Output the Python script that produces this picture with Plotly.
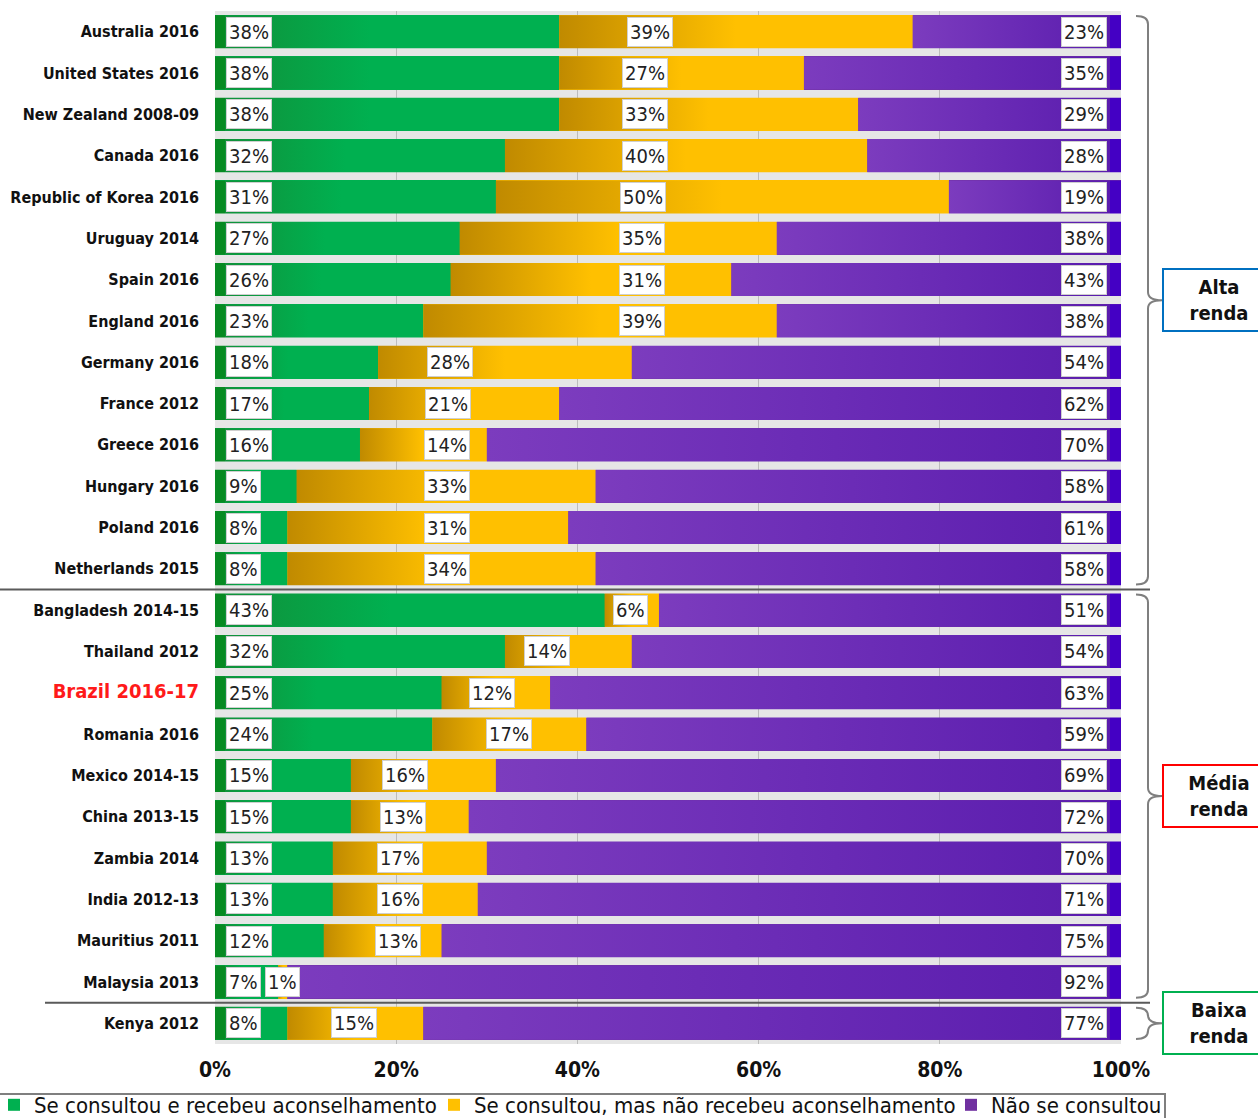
import plotly.graph_objects as go

# ---- data -------------------------------------------------------------
countries = [
    "Australia 2016", "United States 2016", "New Zealand 2008-09", "Canada 2016",
    "Republic of Korea 2016", "Uruguay 2014", "Spain 2016", "England 2016",
    "Germany 2016", "France 2012", "Greece 2016", "Hungary 2016", "Poland 2016",
    "Netherlands 2015", "Bangladesh 2014-15", "Thailand 2012", "Brazil 2016-17",
    "Romania 2016", "Mexico 2014-15", "China 2013-15", "Zambia 2014",
    "India 2012-13", "Mauritius 2011", "Malaysia 2013", "Kenya 2012",
]
received_advice = [38, 38, 38, 32, 31, 27, 26, 23, 18, 17, 16, 9, 8, 8,
                   43, 32, 25, 24, 15, 15, 13, 13, 12, 7, 8]
no_advice = [39, 27, 33, 40, 50, 35, 31, 39, 28, 21, 14, 33, 31, 34,
             6, 14, 12, 17, 16, 13, 17, 16, 13, 1, 15]
not_consulted = [23, 35, 29, 28, 19, 38, 43, 38, 54, 62, 70, 58, 61, 58,
                 51, 54, 63, 59, 69, 72, 70, 71, 75, 92, 77]
series_names = [
    "Se consultou e recebeu aconselhamento",
    "Se consultou, mas não recebeu aconselhamento",
    "Não se consultou",
]
x_ticks = [0, 20, 40, 60, 80, 100]
x_tick_labels = ["0%", "20%", "40%", "60%", "80%", "100%"]
highlight_country = "Brazil 2016-17"

income_groups = ["Alta<br>renda", "Média<br>renda", "Baixa<br>renda"]
group_first_row = [0, 14, 24]
group_last_row = [13, 23, 24]
group_colors = ["#0070c0", "#ff0000", "#00b050"]

# x position (in %) of the middle-segment value labels
mid_label_pos = [48.0, 47.5, 47.5, 47.5, 47.2, 47.1, 47.1, 47.1, 25.9, 25.7,
                 25.6, 25.6, 25.6, 25.6, 45.9, 36.6, 30.6, 32.5, 21.0, 20.8,
                 20.4, 20.4, 20.2, 7.4, 15.3]

# ---- page geometry ----------------------------------------------------
W, H = 1258, 1118
ML, MR, MT, MB = 215, 137, 11, 74
PW, PH = W - ML - MR, H - MT - MB
N = len(countries)
BARGAP = 0.2
HALF = (1 - BARGAP) / 2

COND = "DejaVu Sans Condensed"


def xp(px):
    return (px - ML) / PW


def yp(py):
    return (H - MB - py) / PH


def row_y(idx):
    # paper y for a (fractional) row index, rows run top to bottom
    return 1 - (idx + 0.5) / N


rows = list(range(N))
flat_colors = ["#00b050", "#ffc000", "#7030a0"]
series = [received_advice, no_advice, not_consulted]
legend_ids = ["legend", "legend2", "legend3"]
legend_left_px = [-6, 434, 951]

fig = go.Figure()

# stacked bars
for name, vals, col, lg in zip(series_names, series, flat_colors, legend_ids):
    fig.add_trace(go.Bar(
        y=rows, x=vals, orientation="h", name=name, legend=lg,
        marker=dict(color=col, line=dict(width=0)),
        hoverinfo="skip",
    ))


def green_scale(w):
    s = min(1.1 / w, 0.3)
    return [[0, "#078a22"], [s, "#078a22"], [s + 0.001, "#10913a"],
            [max(s + 0.002, 0.45), "#00b050"], [1, "#00b050"]]


def yellow_scale(w):
    return [[0, "#c08a00"], [0.5, "#ffc000"], [1, "#ffc000"]]


def purple_scale(w):
    s = min(1.2 / w, 0.3)
    return [[0, "#7c3cbe"], [1 - s - 0.001, "#5a1cae"], [1 - s, "#4400c4"],
            [1, "#4400c4"]]


scales = [green_scale, yellow_scale, purple_scale]

# shaded overlay on each segment (same extents as the bars)
for k, vals in enumerate(series):
    for i in rows:
        x0 = sum(series[j][i] for j in range(k))
        x1 = x0 + vals[i]
        if vals[i] <= 0:
            continue
        fig.add_trace(go.Scatter(
            x=[x0, x1, x1, x0, x0],
            y=[i - HALF, i - HALF, i + HALF, i + HALF, i - HALF],
            mode="none", fill="toself", showlegend=False, hoverinfo="skip",
            fillcolor=flat_colors[k],
            fillgradient=dict(type="horizontal", colorscale=scales[k](vals[i]),
                              start=x0, stop=x1),
        ))

# value labels
label_font = dict(family=COND, size=20, color="#222222")
annotations = []
for i in rows:
    common = dict(yref="y", xref="x", y=i, showarrow=False, font=label_font,
                  bgcolor="white", bordercolor="#cfcfcf", borderwidth=1,
                  borderpad=2, yanchor="middle")
    annotations.append(dict(x=1.2, xanchor="left",
                            text=f"{received_advice[i]}%", **common))
    annotations.append(dict(x=mid_label_pos[i], xanchor="center",
                            text=f"{no_advice[i]}%", **common))
    annotations.append(dict(x=98.4, xanchor="right",
                            text=f"{not_consulted[i]}%", **common))

# income group brackets and boxes
shapes = []
bx_end, bx_line, bx_tip = xp(1136), xp(1148), xp(1162)
for g, (first, last, col) in enumerate(zip(group_first_row, group_last_row,
                                            group_colors)):
    top = row_y(first - 0.38)
    bot = row_y(min(last + 0.38, N - 0.55))
    mid = (top + bot) / 2
    r = 0.008
    path = (f"M {bx_end},{top} Q {bx_line},{top} {bx_line},{top - r} "
            f"L {bx_line},{mid + r} Q {bx_line},{mid} {bx_tip},{mid} "
            f"Q {bx_line},{mid} {bx_line},{mid - r} "
            f"L {bx_line},{bot + r} Q {bx_line},{bot} {bx_end},{bot}")
    shapes.append(dict(type="path", xref="paper", yref="paper", path=path,
                       line=dict(color="#7f7f7f", width=2)))
    annotations.append(dict(
        xref="paper", yref="paper", x=bx_tip, y=mid, xanchor="left",
        yanchor="middle", showarrow=False, text=income_groups[g],
        width=100, align="center", bordercolor=col, borderwidth=2,
        borderpad=5, bgcolor="white",
        font=dict(family=COND, size=20, color="#111111", weight="bold"),
    ))

# separators between income groups
for last, x_start in zip(group_last_row[:-1], [0, 45]):
    yy = row_y(last + 0.5)
    shapes.append(dict(type="line", xref="paper", yref="paper",
                       x0=xp(x_start), x1=xp(1150), y0=yy, y1=yy,
                       line=dict(color="#5a5a5a", width=2)))

# legend frame
shapes.append(dict(type="rect", xref="paper", yref="paper",
                   x0=xp(-5), x1=xp(1165), y0=yp(1094), y1=yp(1140),
                   line=dict(color="#7f7f7f", width=2), fillcolor="rgba(0,0,0,0)"))

tick_text = [
    f'<span style="color:#ff1a1a;font-size:20px">{c}</span>'
    if c == highlight_country else c
    for c in countries
]

legend_style = dict(orientation="h", y=yp(1105), xanchor="left",
                    yanchor="middle", itemwidth=30, itemclick=False,
                    font=dict(family=COND, size=22, color="#111111"),
                    bgcolor="rgba(0,0,0,0)")

fig.update_layout(
    width=W, height=H,
    margin=dict(l=ML, r=MR, t=MT, b=MB, autoexpand=False),
    barmode="stack", bargap=BARGAP,
    paper_bgcolor="white", plot_bgcolor="#e6e6e6",
    showlegend=True,
    xaxis=dict(range=[0, 100], tickvals=x_ticks, ticktext=x_tick_labels,
               showgrid=True, gridcolor="#bcbcbc", gridwidth=1, zeroline=False,
               showline=False, ticks="", ticklabelstandoff=11,
               tickfont=dict(family=COND, size=21, color="#111111",
                             weight="bold")),
    yaxis=dict(range=[N - 0.5, -0.5], tickvals=rows, ticktext=tick_text,
               showgrid=False, zeroline=False, showline=False, ticks="",
               ticklabelstandoff=15,
               tickfont=dict(family=COND, size=16, color="#111111",
                             weight="bold")),
    annotations=annotations,
    shapes=shapes,
)
for lg, left in zip(legend_ids, legend_left_px):
    fig.update_layout({lg: dict(x=xp(left), **legend_style)})

fig.write_html("out.html")
